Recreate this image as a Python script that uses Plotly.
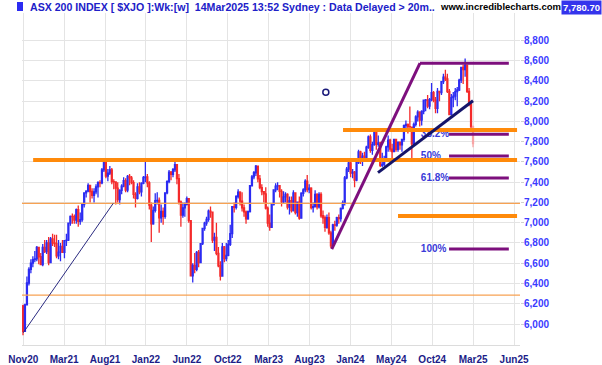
import pandas as pd
import plotly.graph_objects as go

# ---------------- data (weekly candles, ASX 200) ----------------
start_week = "2020-10-30"
n_weeks = 229

opens = [
    6180, 5928, 6190, 6405, 6539, 6601, 6635, 6643, 6756, 6664,
    6587, 6757, 6715, 6800, 6607, 6840, 6800, 6794, 6673, 6710,
    6767, 6708, 6824, 6828, 6995, 7063, 7061, 7025, 7130, 7014,
    7030, 7180, 7295, 7312, 7369, 7308, 7269, 7305, 7353, 7395,
    7393, 7522, 7628, 7461, 7489, 7522, 7406, 7403, 7342, 7227,
    7320, 7362, 7415, 7323, 7457, 7443, 7396, 7279, 7240, 7353,
    7305, 7388, 7445, 7453, 7393, 7173, 6988, 7121, 7217, 7221,
    7049, 7111, 7064, 7295, 7406, 7499, 7478, 7523, 7574, 7435,
    7205, 7075, 7147, 7182, 7238, 7020, 6475, 6578, 6539, 6707,
    6606, 6793, 6945, 6996, 7032, 7115, 7105, 6829, 6855, 6697,
    6575, 6474, 6762, 6645, 6677, 6786, 6892, 7158, 7152, 7259,
    7302, 7213, 7147, 7107, 7039, 7110, 7365, 7452, 7493, 7559,
    7433, 7347, 7307, 7284, 7145, 6995, 6955, 7178, 7325, 7362,
    7366, 7309, 7205, 7256, 7279, 7154, 7217, 7120, 7294, 7099,
    7203, 7045, 7291, 7325, 7410, 7326, 7340, 7148, 7159, 7279,
    7156, 7279, 7069, 7049, 6954, 7051, 6899, 6772, 6978, 6976,
    7050, 7040, 7142, 7195, 7443, 7528, 7591, 7489, 7499, 7421,
    7593, 7699, 7645, 7658, 7643, 7745, 7847, 7714, 7771, 7897,
    7773, 7788, 7567, 7575, 7629, 7749, 7814, 7727, 7702, 7822,
    7724, 7796, 7768, 7822, 7959, 7971, 7949, 7943, 7778, 7971,
    8044, 8092, 8013, 8099, 8209, 8212, 8150, 8215, 8283, 8211,
    8130, 8296, 8285, 8393, 8436, 8420, 8296, 8067, 8235, 8250,
    8294, 8310, 8408, 8532, 8512, 8555, 8296, 8172, 7948,
]
highs = [
    6190, 6200, 6470, 6560, 6640, 6670, 6720, 6770, 6760, 6700,
    6790, 6830, 6830, 6860, 6860, 6890, 6880, 6880, 6830, 6800,
    6830, 6830, 6890, 7000, 7070, 7090, 7080, 7140, 7170, 7100,
    7190, 7300, 7320, 7390, 7370, 7340, 7340, 7380, 7410, 7420,
    7540, 7640, 7632, 7530, 7560, 7540, 7430, 7410, 7400, 7330,
    7380, 7450, 7440, 7470, 7480, 7460, 7420, 7300, 7390, 7400,
    7400, 7460, 7620, 7480, 7410, 7200, 7160, 7290, 7300, 7250,
    7180, 7150, 7300, 7420, 7520, 7510, 7540, 7630, 7580, 7480,
    7220, 7200, 7200, 7260, 7240, 7020, 6600, 6700, 6720, 6730,
    6800, 6950, 7010, 7060, 7130, 7160, 7110, 6900, 7000, 6760,
    6620, 6800, 6770, 6800, 6830, 6980, 7160, 7200, 7270, 7330,
    7310, 7300, 7180, 7120, 7120, 7370, 7470, 7510, 7570, 7560,
    7470, 7380, 7310, 7350, 7160, 7080, 7190, 7330, 7390, 7400,
    7370, 7330, 7310, 7300, 7290, 7260, 7260, 7320, 7300, 7210,
    7260, 7300, 7340, 7430, 7470, 7380, 7350, 7200, 7320, 7290,
    7300, 7300, 7120, 7070, 7080, 7100, 6920, 6990, 7020, 7060,
    7080, 7150, 7220, 7460, 7550, 7630, 7600, 7530, 7510, 7610,
    7720, 7710, 7690, 7700, 7760, 7860, 7870, 7800, 7900, 7900,
    7860, 7800, 7690, 7660, 7760, 7860, 7830, 7780, 7830, 7830,
    7800, 7800, 7830, 7970, 8010, 7980, 8148, 7950, 7990, 8060,
    8110, 8100, 8110, 8210, 8220, 8260, 8230, 8380, 8300, 8240,
    8330, 8300, 8400, 8470, 8510, 8470, 8320, 8270, 8290, 8330,
    8340, 8420, 8540, 8560, 8620, 8560, 8330, 8200, 7960,
]
lows = [
    5890, 5925, 6190, 6380, 6500, 6560, 6610, 6620, 6590, 6580,
    6570, 6700, 6690, 6580, 6600, 6770, 6760, 6650, 6640, 6620,
    6700, 6650, 6770, 6820, 6970, 6990, 6990, 6990, 6960, 6980,
    7010, 7150, 7250, 7300, 7200, 7240, 7200, 7280, 7250, 7350,
    7380, 7500, 7440, 7410, 7470, 7380, 7330, 7180, 7200, 7180,
    7280, 7350, 7300, 7300, 7370, 7380, 7240, 7150, 7230, 7280,
    7260, 7380, 7400, 7350, 7130, 6810, 6980, 7100, 7180, 6900,
    7000, 6980, 7040, 7280, 7390, 7420, 7450, 7500, 7380, 7180,
    6960, 7050, 7060, 7170, 7000, 6470, 6410, 6500, 6520, 6560,
    6600, 6780, 6920, 6970, 7010, 7050, 6800, 6720, 6680, 6560,
    6430, 6470, 6610, 6620, 6670, 6770, 6850, 7100, 7130, 7240,
    7170, 7110, 7060, 6990, 7030, 7100, 7360, 7430, 7460, 7400,
    7330, 7270, 7200, 7130, 6960, 6920, 6950, 7170, 7300, 7320,
    7250, 7160, 7190, 7200, 7130, 7080, 7100, 7110, 7080, 7060,
    7030, 7040, 7260, 7300, 7300, 7290, 7130, 7100, 7150, 7130,
    7140, 7050, 6990, 6910, 6940, 6880, 6750, 6760, 6920, 6960,
    6990, 7010, 7130, 7170, 7430, 7500, 7450, 7440, 7350, 7410,
    7580, 7580, 7560, 7600, 7620, 7730, 7690, 7670, 7760, 7720,
    7750, 7550, 7550, 7560, 7610, 7700, 7700, 7640, 7700, 7700,
    7700, 7720, 7700, 7800, 7900, 7880, 7940, 7600, 7760, 7950,
    8000, 7950, 7960, 8070, 8100, 8130, 8120, 8200, 8190, 8080,
    8080, 8200, 8260, 8370, 8400, 8280, 8060, 8060, 8140, 8210,
    8150, 8300, 8380, 8370, 8440, 8280, 8150, 7930, 7745,
]
closes = [
    5928, 6190, 6405, 6539, 6601, 6635, 6643, 6756, 6664, 6587,
    6757, 6715, 6800, 6607, 6840, 6800, 6794, 6673, 6710, 6767,
    6708, 6824, 6828, 6995, 7063, 7061, 7025, 7130, 7014, 7030,
    7180, 7295, 7312, 7369, 7308, 7269, 7305, 7353, 7395, 7393,
    7522, 7628, 7461, 7489, 7522, 7406, 7403, 7342, 7227, 7320,
    7362, 7415, 7323, 7457, 7443, 7396, 7279, 7240, 7353, 7305,
    7388, 7445, 7453, 7393, 7173, 6988, 7121, 7217, 7221, 7049,
    7111, 7064, 7295, 7406, 7499, 7478, 7523, 7574, 7435, 7205,
    7075, 7147, 7182, 7238, 7020, 6475, 6578, 6539, 6707, 6606,
    6793, 6945, 6996, 7032, 7115, 7105, 6829, 6855, 6697, 6575,
    6474, 6762, 6645, 6677, 6786, 6892, 7158, 7152, 7259, 7302,
    7213, 7147, 7107, 7039, 7110, 7365, 7452, 7493, 7559, 7433,
    7347, 7307, 7284, 7145, 6995, 6955, 7178, 7325, 7362, 7366,
    7309, 7205, 7256, 7279, 7154, 7217, 7120, 7294, 7099, 7203,
    7045, 7291, 7325, 7410, 7326, 7340, 7148, 7159, 7279, 7156,
    7279, 7069, 7049, 6954, 7051, 6899, 6772, 6978, 6976, 7050,
    7040, 7142, 7195, 7443, 7528, 7591, 7489, 7499, 7421, 7593,
    7699, 7645, 7658, 7643, 7745, 7847, 7714, 7771, 7897, 7773,
    7788, 7567, 7575, 7629, 7749, 7814, 7727, 7702, 7822, 7724,
    7796, 7768, 7822, 7959, 7971, 7949, 7943, 7778, 7971, 8044,
    8092, 8013, 8099, 8209, 8212, 8150, 8215, 8283, 8211, 8130,
    8296, 8285, 8393, 8436, 8420, 8296, 8067, 8235, 8250, 8294,
    8310, 8408, 8532, 8512, 8555, 8296, 8172, 7948, 7781,
]

x_tick_labels = ["Nov20", "Mar21", "Aug21", "Jan22", "Jun22", "Oct22", "Mar23",
                 "Aug23", "Jan24", "May24", "Oct24", "Mar25", "Jun25"]
y_tick_values = [6000, 6200, 6400, 6600, 6800, 7000, 7200, 7400, 7600, 7800,
                 8000, 8200, 8400, 8600, 8800]

# drawn support / resistance lines (price levels)
orange_thick = [("2020-12-05", 7620), ("2023-12-09", 7915), ("2024-06-21", 7066)]
orange_thin = [7190, 6286]
swing_low = ("2023-10-30", 6740)
swing_high = ("2024-09-07", 8575)
fib_start, fib_end = "2024-12-19", "2025-07-19"
fib_labels = ["38.2%", "50%", "61.8%", "100%"]
fib_ratios = [0.382, 0.5, 0.618, 1.0]
fib_label_date = "2024-09-10"
navy_trend = [("2024-04-11", 7494), ("2025-03-14", 8204)]
thin_trend = [("2020-10-31", 5914), ("2021-09-15", 7191)]
marker_point = ("2023-10-09", 8287)
last_price = "7,780.70"

# ---------------- figure ----------------
t0 = pd.Timestamp(start_week)
dates = pd.date_range(start_week, periods=n_weeks, freq="W-FRI")


def wk(w):
    return t0 + pd.Timedelta(days=7 * w)


BLUE = "#2b2bf2"
RED = "#f42a2a"

fig = go.Figure()
k = n_weeks - 1
fig.add_trace(go.Candlestick(
    x=dates[:k], open=opens[:k], high=highs[:k], low=lows[:k], close=closes[:k],
    increasing=dict(line=dict(color=BLUE, width=1.3), fillcolor=BLUE),
    decreasing=dict(line=dict(color=RED, width=1.3), fillcolor=RED),
    whiskerwidth=0, showlegend=False, hoverinfo="skip"))
fig.add_trace(go.Candlestick(
    x=dates[k:], open=opens[k:], high=highs[k:], low=lows[k:], close=closes[k:],
    increasing=dict(line=dict(color="#9f9ff8", width=1.3), fillcolor="#9f9ff8"),
    decreasing=dict(line=dict(color="#f8a4a4", width=1.3), fillcolor="#f8a4a4"),
    whiskerwidth=0, showlegend=False, hoverinfo="skip"))

# fib levels
lo_v, hi_v = swing_low[1], swing_high[1]
fib_levels = [hi_v - r * (hi_v - lo_v) for r in fib_ratios]
fig.add_trace(go.Scatter(
    x=[fib_label_date] * len(fib_labels), y=fib_levels, mode="text",
    text=fib_labels, textposition="middle right",
    textfont=dict(family="Liberation Sans, Arial", size=10, color="#3a3ad8", weight="bold"),
    showlegend=False, hoverinfo="skip"))

fig.add_trace(go.Scatter(
    x=[marker_point[0]], y=[marker_point[1]], mode="markers",
    marker=dict(symbol="circle-open", size=6, color="#1a1a7a", line=dict(width=1.5)),
    showlegend=False, hoverinfo="skip"))

shapes = []
right_end = wk(250.3)
for v in orange_thin:
    shapes.append(dict(type="line", xref="paper", x0=0, x1=1, yref="y", y0=v, y1=v,
                       line=dict(color="#f7a253", width=1.3), layer="above"))
for d, v in orange_thick:
    shapes.append(dict(type="line", xref="x", x0=d, x1=right_end, yref="y", y0=v, y1=v,
                       line=dict(color="#ff8a0a", width=4), layer="above"))
PURPLE = "#7d0f7d"
shapes.append(dict(type="line", x0=swing_low[0], y0=swing_low[1], x1=swing_high[0], y1=swing_high[1],
                   line=dict(color=PURPLE, width=3), layer="above"))
shapes.append(dict(type="line", x0=swing_high[0], y0=hi_v, x1=fib_end, y1=hi_v,
                   line=dict(color=PURPLE, width=3), layer="above"))
for v in fib_levels:
    shapes.append(dict(type="line", x0=fib_start, y0=v, x1=fib_end, y1=v,
                       line=dict(color=PURPLE, width=3), layer="above"))
shapes.append(dict(type="line", x0=navy_trend[0][0], y0=navy_trend[0][1],
                   x1=navy_trend[1][0], y1=navy_trend[1][1],
                   line=dict(color="#14146a", width=3), layer="above"))
shapes.append(dict(type="line", x0=thin_trend[0][0], y0=thin_trend[0][1],
                   x1=thin_trend[1][0], y1=thin_trend[1][1],
                   line=dict(color="#2a2a80", width=1), layer="above"))
# header icon
shapes.append(dict(type="rect", xref="paper", yref="paper",
                   x0=(17 - 22) / 498, x1=(23 - 22) / 498,
                   y0=(345 - 11) / 332, y1=(345 - 2) / 332,
                   fillcolor="#2b2bf2", line=dict(width=0), layer="above"))

FONT = "Liberation Sans, Arial, sans-serif"
annotations = [
    dict(xref="paper", yref="paper", x=(28 - 22) / 498, y=(345 - 7) / 332,
         xanchor="left", yanchor="middle", showarrow=False,
         text="ASX 200 INDEX [ $XJO ]:Wk:[w]  14Mar2025 13:52 Sydney : Data Delayed > 20m..",
         font=dict(family=FONT, size=10.6, color="#2020c8", weight="bold")),
    dict(xref="paper", yref="paper", x=(438 - 22) / 498, y=(345 - 7) / 332,
         xanchor="left", yanchor="middle", showarrow=False,
         text="www.incrediblecharts.com",
         font=dict(family=FONT, size=9.5, color="#000000", weight="bold")),
    dict(xref="paper", yref="paper", x=(602 - 22) / 498, y=(345 - 7.5) / 332,
         xanchor="right", yanchor="middle", showarrow=False,
         text=last_price, bgcolor="#3434ec", borderpad=1,
         font=dict(family=FONT, size=9.5, color="#ffffff", weight="bold")),
]

tick_dates = [wk(0.15 + 20.72 * i) for i in range(len(x_tick_labels))]

fig.update_layout(
    width=602, height=365,
    margin=dict(l=22, r=82, t=13, b=20),
    paper_bgcolor="white", plot_bgcolor="white",
    shapes=shapes, annotations=annotations,
    xaxis=dict(type="date", range=[wk(-0.5), wk(251.8)], automargin=False,
               rangeslider=dict(visible=False),
               tickvals=tick_dates, ticktext=x_tick_labels,
               showgrid=True, gridcolor="#e4e4e4", gridwidth=1,
               showline=True, linecolor="#dcdcdc", linewidth=1,
               ticks="", ticklabelstandoff=5, zeroline=False,
               tickfont=dict(family=FONT, size=10, color="#1c1c88", weight="bold")),
    yaxis=dict(side="right", range=[5793, 9070], automargin=False,
               tickvals=y_tick_values, ticktext=[f"{v:,}" for v in y_tick_values],
               showgrid=True, gridcolor="#e4e4e4", gridwidth=1,
               ticks="outside", ticklen=3, tickcolor="#cfcfcf", ticklabelstandoff=-2,
               zeroline=False, showline=False,
               tickfont=dict(family=FONT, size=10, color="#3b3bff", weight="bold")),
)

fig.write_html("out.html", config={"displayModeBar": False},
               post_script="document.body.style.margin='0px';")
